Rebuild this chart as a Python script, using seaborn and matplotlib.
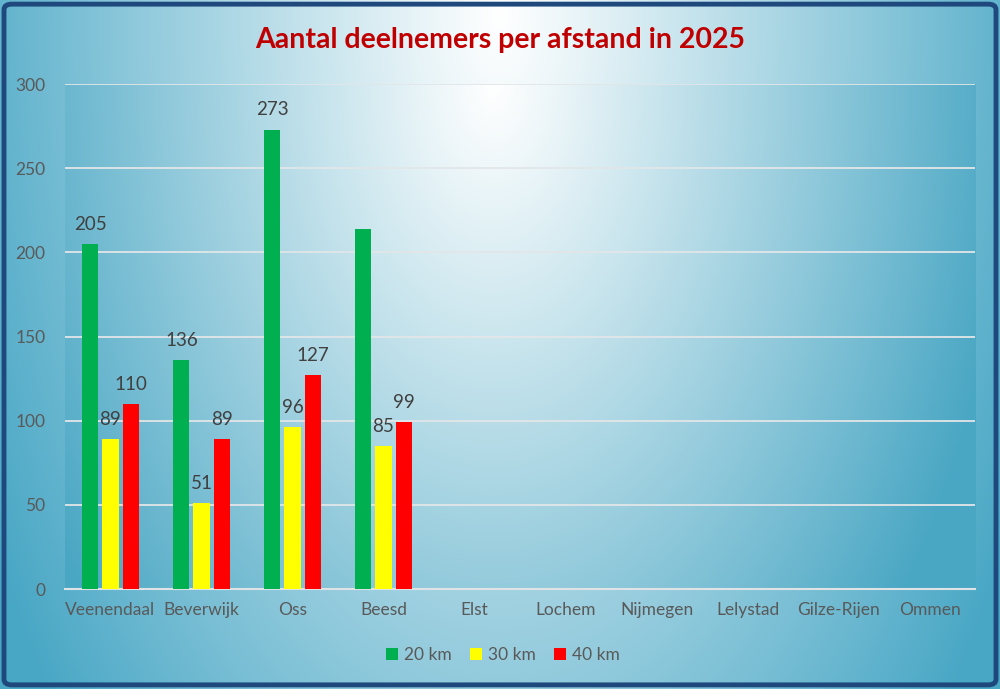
import numpy as np
import pandas as pd
import matplotlib
matplotlib.use("Agg")
import matplotlib.pyplot as plt
from matplotlib.patches import FancyBboxPatch
from matplotlib.colors import to_rgb
import seaborn as sns

# ---- data ----
categories = ["Veenendaal", "Beverwijk", "Oss", "Beesd", "Elst", "Lochem",
              "Nijmegen", "Lelystad", "Gilze-Rijen", "Ommen"]
series = ["20 km", "30 km", "40 km"]
values_20 = [205, 136, 273, 214, np.nan, np.nan, np.nan, np.nan, np.nan, np.nan]
values_30 = [89, 51, 96, 85, np.nan, np.nan, np.nan, np.nan, np.nan, np.nan]
values_40 = [110, 89, 127, 99, np.nan, np.nan, np.nan, np.nan, np.nan, np.nan]
# the reference shows no data label on the Beesd 20 km bar
hidden_labels = [("20 km", "Beesd")]
y_ticks = [0, 50, 100, 150, 200, 250, 300]
title = "Aantal deelnemers per afstand in 2025"

colors = ["#00B050", "#FFFF00", "#FF0000"]

rows = []
for s, vals in zip(series, [values_20, values_30, values_40]):
    for c, v in zip(categories, vals):
        rows.append({"Plaats": c, "Afstand": s, "Aantal": v})
df = pd.DataFrame(rows)

sns.set_theme(style="white")
plt.rcParams["font.family"] = ["Lato", "DejaVu Sans"]

W, H = 1000, 689
fig = plt.figure(figsize=(W / 100, H / 100), dpi=100)

def radial(nx, ny, cx, cy, sx, sy, inner, outer, power=1.0):
    xx, yy = np.meshgrid(np.linspace(0, 1, nx), np.linspace(0, 1, ny))
    d = np.sqrt(((xx - cx) / sx) ** 2 + ((yy - cy) / sy) ** 2)
    t = np.clip(d, 0, 1) ** power
    a = np.array(to_rgb(inner)); b = np.array(to_rgb(outer))
    return a[None, None, :] * (1 - t[..., None]) + b[None, None, :] * t[..., None]

# figure background gradient
bg = fig.add_axes([0, 0, 1, 1], zorder=-10)
img = radial(400, 280, 0.5, 0.02, 0.58, 1.6, "#ffffff", "#48a7c5", 1.05)
bg.imshow(img, extent=[0, 1, 0, 1], aspect="auto", origin="upper")
bg.set_axis_off()
bg.add_patch(FancyBboxPatch((0.004, 0.006), 0.992, 0.988,
                            boxstyle="round,pad=0,rounding_size=0.008",
                            transform=bg.transAxes, fill=False,
                            edgecolor="#1F497D", linewidth=3.5))

ax = fig.add_axes([0.065, 0.1451, 0.91, 0.7329])
ax.set_facecolor("none")
pimg = radial(400, 250, 0.47, 0.0, 0.57, 1.65, "#ffffff", "#4aa7c4", 1.05)
ax.imshow(pimg, extent=[0, 1, 0, 1], aspect="auto", origin="upper",
          transform=ax.transAxes, zorder=0)

sns.barplot(data=df, x="Plaats", y="Aantal", hue="Afstand", order=categories,
            hue_order=series, palette=colors, width=0.66, gap=0.2,
            saturation=1, linewidth=0, ax=ax, zorder=3, legend=True)

ax.set_xlim(-0.5, len(categories) - 0.5)
ax.set_ylim(0, 300)
ax.set_yticks(y_ticks)
ax.yaxis.grid(True, color="#e2e6e8", linewidth=1.3, zorder=1)
ax.set_axisbelow(True)
for sp in ["left", "right", "top"]:
    ax.spines[sp].set_visible(False)
ax.spines["bottom"].set_color("#dfe3e5")
ax.spines["bottom"].set_linewidth(1.5)
ax.tick_params(axis="both", length=0, colors="#595959", labelsize=12.5)
ax.tick_params(axis="x", pad=9)
ax.tick_params(axis="y", pad=14)
ax.set_xlabel("")
ax.set_ylabel("")

for s, cont in zip(series, ax.containers):
    for c, bar in zip(categories, cont):
        h = bar.get_height()
        if np.isnan(h) or h == 0 or (s, c) in hidden_labels:
            continue
        ax.annotate(f"{int(h)}", (bar.get_x() + bar.get_width() / 2, h),
                    xytext=(0, 8), textcoords="offset points",
                    ha="center", va="bottom", fontsize=13.5, color="#404040",
                    zorder=5)

handles, labels = ax.get_legend_handles_labels()
ax.get_legend().remove()
fig.legend(handles, labels, loc="center", bbox_to_anchor=(0.503, 0.049),
           ncol=3, frameon=False, fontsize=12.5, handlelength=0.7,
           handleheight=0.7, handletextpad=0.35, columnspacing=1.05,
           labelcolor="#595959")

fig.text(0.5, 0.942, title, ha="center", va="center", fontsize=20.5,
         fontweight="bold", color="#C00000")

fig.savefig("out.png", dpi=100)
